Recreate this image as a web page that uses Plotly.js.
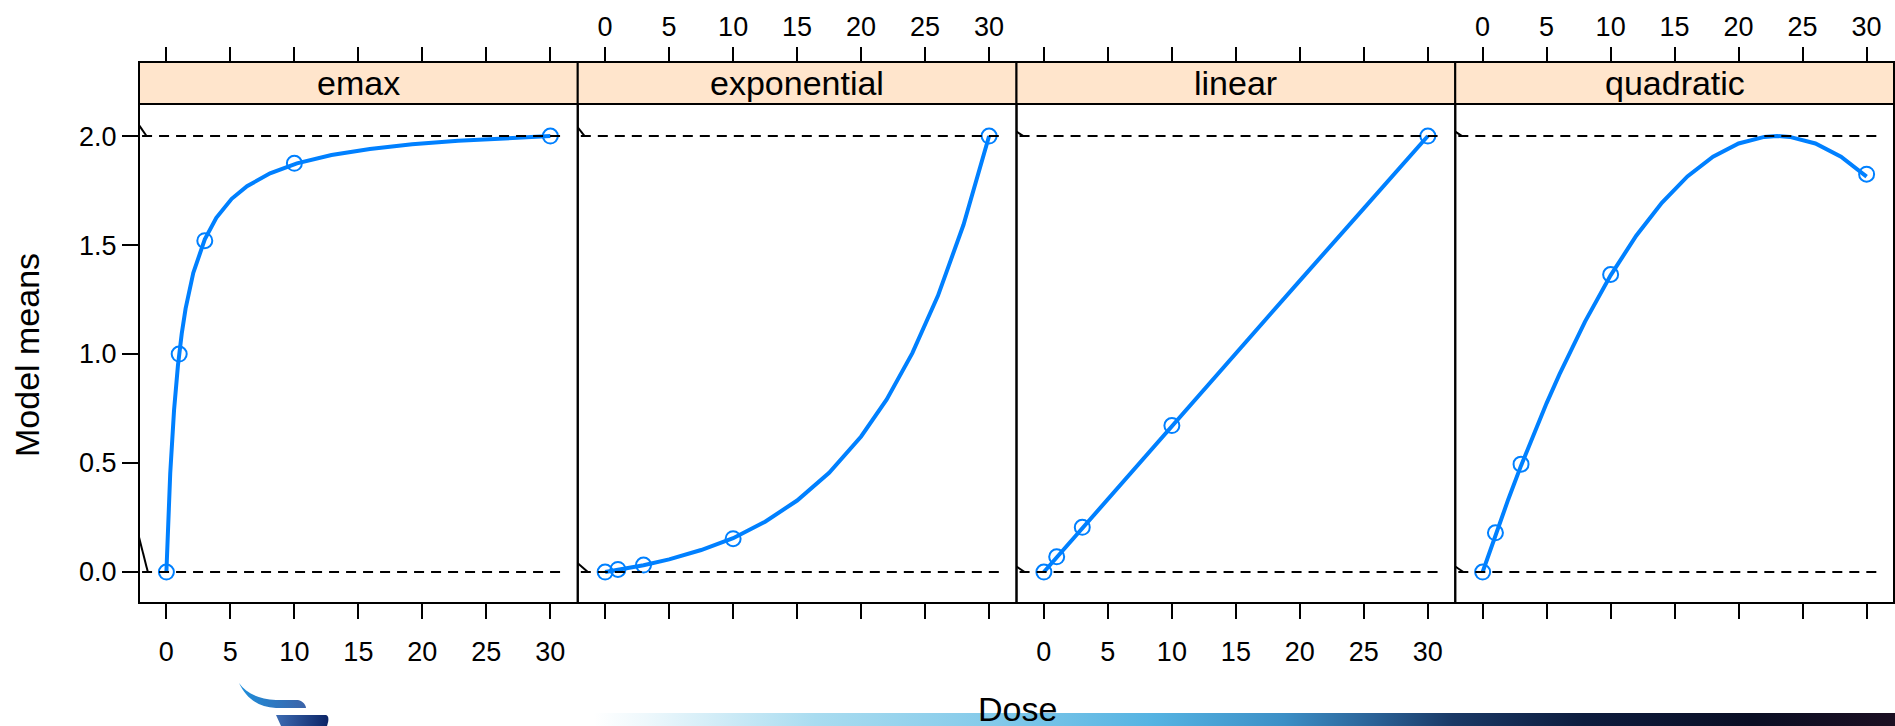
<!DOCTYPE html>
<html>
<head>
<meta charset="utf-8">
<script src="https://cdn.plot.ly/plotly-3.0.1.min.js"></script>
<style>
html,body{margin:0;padding:0;background:#ffffff;}
#wrap{position:relative;width:1895px;height:726px;overflow:hidden;background:#ffffff;}
#bar{position:absolute;left:594px;top:713px;width:1301px;height:13px;
 background:linear-gradient(to right,#ffffff 0%,#eef8fc 4%,#a9dcf0 17%,#86cbea 30%,#55b3e2 43%,#3c8fc6 53%,#2a6196 60%,#1a3966 66%,#0d1c3e 76%,#0a0e24 89%,#1c0f22 100%);}
#logo{position:absolute;left:0;top:0;}
#chart{position:absolute;left:0;top:0;width:1895px;height:726px;}
</style>
</head>
<body>
<div id="wrap">
  <div id="bar"></div>
  <svg id="logo" width="1895" height="726">
    <defs>
      <linearGradient id="g1" x1="0" y1="0" x2="1" y2="0">
        <stop offset="0" stop-color="#1e8fdc"/><stop offset="1" stop-color="#3c63a8"/>
      </linearGradient>
      <linearGradient id="g2" x1="0" y1="0" x2="1" y2="0">
        <stop offset="0" stop-color="#3d6cb3"/><stop offset="1" stop-color="#0c2466"/>
      </linearGradient>
    </defs>
    <path d="M239,683 C246,693 258,699 276,700 L298,700 C303,701 306,705 306,708 L276,708 C258,707 246,698 239,683 Z" fill="url(#g1)"/>
    <path d="M276,715 L326,715 C329,716 329,720 327,726 L281,726 Z" fill="url(#g2)"/>
  </svg>
  <div id="chart"></div>
</div>
<script>
// ---- data ----
const panels = ["emax", "exponential", "linear", "quadratic"];
const doses = [0, 1, 3, 10, 30];

const emaxMeans = [0, 1.0, 1.52, 1.875, 2.0];
const expMeans = [0, 0.012, 0.032, 0.153, 2.0];
const linMeans = [0, 0.07, 0.205, 0.672, 2.0];
const quadMeans = [0, 0.18, 0.495, 1.365, 1.825];

const emaxGrid = [0, 0.3, 0.6, 0.9, 1.2, 1.5, 2.1, 3, 3.9, 5.1, 6.3, 8.1, 10.2, 12.9, 15.9, 19.2, 22.8, 26.4, 30];
const emaxCurve = [0, 0.453, 0.744, 0.946, 1.094, 1.208, 1.372, 1.526, 1.625, 1.712, 1.770, 1.829, 1.875, 1.913, 1.941, 1.962, 1.978, 1.991, 2.0];

const expGrid = [0, 1, 3, 5, 7.5, 10, 12.5, 15, 17.5, 20, 22, 24, 26, 28, 30];
const expCurve = [0, 0.009, 0.031, 0.058, 0.101, 0.155, 0.231, 0.328, 0.455, 0.622, 0.792, 1.004, 1.267, 1.593, 2.0];

const linGrid = [0, 5, 10, 15, 20, 25, 30];
const linCurve = [0, 0.335, 0.672, 1.005, 1.337, 1.668, 2.0];

const quadGrid = [0, 1, 2, 3, 4, 5, 6, 7, 8, 10, 12, 14, 16, 18, 20, 22, 23, 24, 26, 28, 30];
const quadCurve = [0, 0.170, 0.333, 0.488, 0.635, 0.775, 0.907, 1.032, 1.149, 1.361, 1.543, 1.694, 1.815, 1.905, 1.966, 1.996, 2.0, 1.996, 1.966, 1.905, 1.814];

const xTicks = [0, 5, 10, 15, 20, 25, 30];
const yTicks = [0, 0.5, 1.0, 1.5, 2.0];
const yTickText = ["0.0", "0.5", "1.0", "1.5", "2.0"];
const refLevels = [0, 2];

// ---- layout geometry ----
const W = 1895, H = 726;
const L = 139, PW = 438.75;
const plotTop = 104, plotBot = 603, stripTop = 62;
const py = v => 1 - v / H;
const px = v => v / W;
const XR = [-2.14, 32.14];
const YR = [-0.142, 2.147];
const FONT = "Liberation Sans, Arial, Helvetica, sans-serif";
const BLUE = "#0080ff";

const means = [emaxMeans, expMeans, linMeans, quadMeans];
const grids = [emaxGrid, expGrid, linGrid, quadGrid];
const curves = [emaxCurve, expCurve, linCurve, quadCurve];

const traces = [];
const layout = {
  width: W, height: H,
  margin: {l: 0, r: 0, t: 0, b: 0, pad: 0},
  paper_bgcolor: "rgba(0,0,0,0)",
  plot_bgcolor: "rgba(0,0,0,0)",
  showlegend: false,
  font: {family: FONT, color: "#000", size: 27},
  shapes: [],
  annotations: []
};

layout.yaxis = {
  domain: [py(plotBot), py(plotTop)], range: YR, anchor: "x",
  ticks: "outside", ticklen: 16, tickwidth: 2, tickcolor: "#000",
  tickvals: yTicks, ticktext: yTickText, tickfont: {size: 27, family: FONT},
  showgrid: false, zeroline: false, showline: false, automargin: false, fixedrange: true
};

const hooks = [
  [[-2.14, 2.05, -1.55, 2.0], [-2.14, 0.16, -1.45, 0.0]],
  [[-2.14, 2.04, -1.6, 2.0], [-2.14, 0.04, -1.35, 0.0]],
  [[-2.14, 2.02, -1.6, 2.0], [-2.14, 0.025, -1.5, 0.0]],
  [[-2.14, 2.02, -1.6, 2.0], [-2.14, 0.025, -1.5, 0.0]]
];

panels.forEach((name, i) => {
  const xid = i === 0 ? "x" : "x" + (i + 1);
  const xkey = i === 0 ? "xaxis" : "xaxis" + (i + 1);
  const tid = "x" + (i + 5);
  const tkey = "xaxis" + (i + 5);
  const d0 = px(L + i * PW), d1 = px(L + (i + 1) * PW);

  layout[xkey] = {
    domain: [d0, d1], range: XR, anchor: "y", side: "bottom",
    ticks: "outside", ticklen: 15, tickwidth: 2, tickcolor: "#000",
    tickvals: xTicks, showticklabels: i % 2 === 0, ticklabelstandoff: 10,
    tickfont: {size: 27, family: FONT},
    showgrid: false, zeroline: false, showline: false, automargin: false, fixedrange: true
  };
  layout[tkey] = {
    domain: [d0, d1], range: XR, anchor: "free", position: py(stripTop),
    overlaying: xid, side: "top",
    ticks: "outside", ticklen: 15, tickwidth: 2, tickcolor: "#000",
    tickvals: xTicks, showticklabels: i % 2 === 1,
    tickfont: {size: 27, family: FONT},
    showgrid: false, zeroline: false, showline: false, automargin: false, fixedrange: true
  };

  // dummy trace so the top axis is drawn
  traces.push({x: [null], y: [null], xaxis: tid, yaxis: "y", mode: "lines", hoverinfo: "skip", showlegend: false});

  // reference dashed lines
  refLevels.forEach(lv => {
    layout.shapes.push({type: "line", xref: xid, yref: "y", x0: -1.9, x1: 30.8, y0: lv, y1: lv,
      line: {color: "#000", width: 2, dash: "10px,7px"}});
  });
  hooks[i].forEach(h => {
    layout.shapes.push({type: "line", xref: xid, yref: "y", x0: h[0], y0: h[1], x1: h[2], y1: h[3],
      line: {color: "#000", width: 2}});
  });

  // curve
  traces.push({x: grids[i], y: curves[i], xaxis: xid, yaxis: "y", mode: "lines",
    line: {color: BLUE, width: 4}, hoverinfo: "skip"});
  // means
  traces.push({x: doses, y: means[i], xaxis: xid, yaxis: "y", mode: "markers",
    marker: {symbol: "circle-open", size: 15, color: BLUE, line: {width: 2, color: BLUE}}, hoverinfo: "skip"});

  // panel border
  layout.shapes.push({type: "rect", xref: "paper", yref: "paper", x0: d0, x1: d1, y0: py(plotBot), y1: py(plotTop),
    line: {color: "#000", width: 2}, fillcolor: "rgba(0,0,0,0)"});
  // strip
  layout.shapes.push({type: "rect", xref: "paper", yref: "paper", x0: d0, x1: d1, y0: py(plotTop), y1: py(stripTop),
    line: {color: "#000", width: 2}, fillcolor: "#ffe5cc", layer: "below"});
  layout.annotations.push({text: name, xref: "paper", yref: "paper", x: (d0 + d1) / 2, y: py((plotTop + stripTop) / 2),
    xanchor: "center", yanchor: "middle", showarrow: false, font: {size: 34, family: FONT, color: "#000"}});
});

layout.annotations.push({text: "Model means", xref: "paper", yref: "paper", x: px(27), y: py(355),
  xanchor: "center", yanchor: "middle", textangle: -90, showarrow: false, font: {size: 34, family: FONT, color: "#000"}});
layout.annotations.push({text: "Dose", xref: "paper", yref: "paper", x: px(1017), y: py(709),
  xanchor: "center", yanchor: "middle", showarrow: false, font: {size: 34, family: FONT, color: "#000"}});

Plotly.newPlot("chart", traces, layout, {staticPlot: true, displayModeBar: false});
</script>
</body>
</html>
